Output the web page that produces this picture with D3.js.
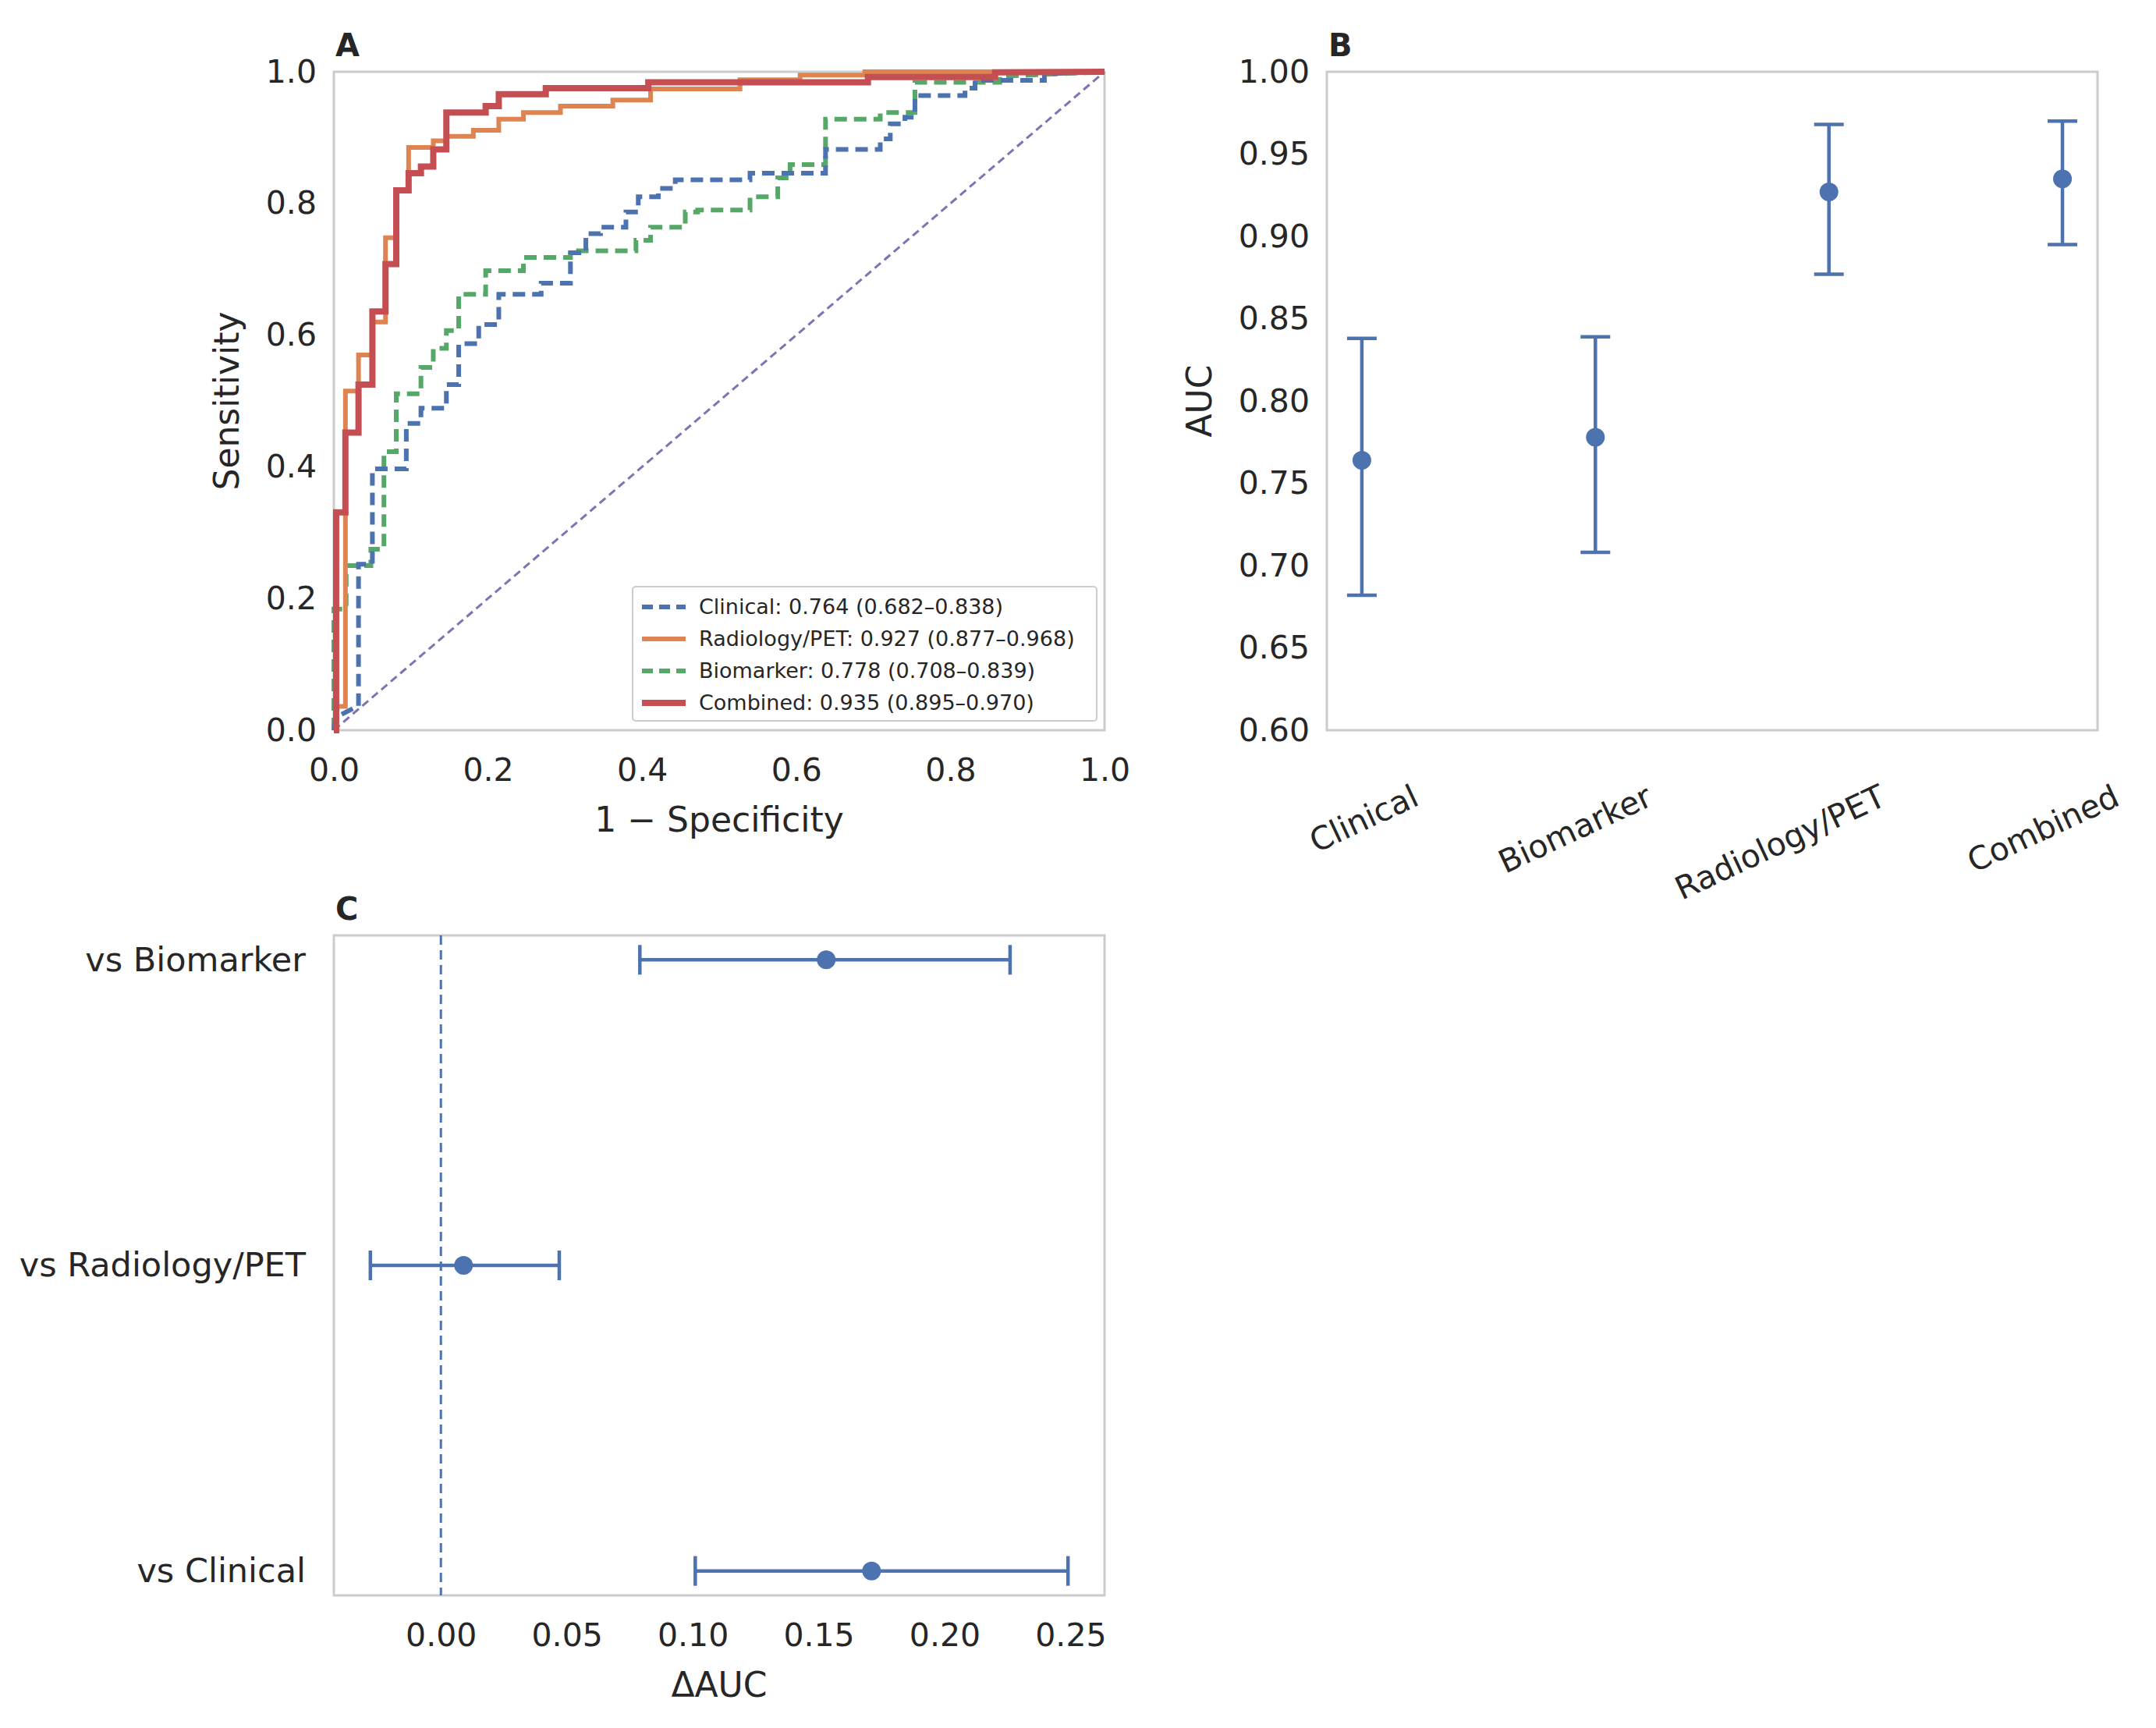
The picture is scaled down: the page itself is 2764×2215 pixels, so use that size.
<!DOCTYPE html>
<html><head><meta charset="utf-8">
<script src="https://cdn.jsdelivr.net/npm/d3@7"></script>
<style>body{margin:0;background:#fff}text{font-family:"DejaVu Sans",sans-serif;fill:#262626}</style>
</head><body><svg id="c" width="2764" height="2215"></svg>
<script>
// ROC step points [fpr, tpr]
const rocClinical=[[0,0],[0.003,0.02],[0.03,0.036],[0.032,0.036],[0.032,0.252],[0.05,0.252],[0.05,0.397],[0.094,0.397],[0.094,0.466],[0.113,0.466],[0.113,0.489],[0.146,0.489],[0.146,0.525],[0.162,0.525],[0.162,0.587],[0.188,0.587],[0.188,0.616],[0.214,0.616],[0.214,0.662],[0.269,0.662],[0.269,0.679],[0.307,0.679],[0.307,0.725],[0.327,0.725],[0.327,0.754],[0.346,0.754],[0.346,0.764],[0.379,0.764],[0.379,0.787],[0.395,0.787],[0.395,0.81],[0.421,0.81],[0.421,0.823],[0.443,0.823],[0.443,0.836],[0.54,0.836],[0.54,0.846],[0.638,0.846],[0.638,0.882],[0.709,0.882],[0.709,0.898],[0.722,0.898],[0.722,0.921],[0.741,0.921],[0.741,0.931],[0.754,0.931],[0.754,0.964],[0.819,0.964],[0.819,0.975],[0.832,0.975],[0.832,0.987],[0.922,0.987],[0.922,0.997],[1,1]];
const rocRadiology=[[0,0],[0.003,0],[0.003,0.036],[0.015,0.036],[0.015,0.515],[0.032,0.515],[0.032,0.57],[0.05,0.57],[0.05,0.62],[0.067,0.62],[0.067,0.748],[0.081,0.748],[0.081,0.82],[0.097,0.82],[0.097,0.885],[0.129,0.885],[0.129,0.895],[0.146,0.895],[0.146,0.902],[0.181,0.902],[0.181,0.911],[0.214,0.911],[0.214,0.928],[0.246,0.928],[0.246,0.938],[0.294,0.938],[0.294,0.948],[0.362,0.948],[0.362,0.957],[0.411,0.957],[0.411,0.974],[0.527,0.974],[0.527,0.988],[0.605,0.988],[0.605,0.995],[0.689,0.995],[0.689,1],[1,1]];
const rocBiomarker=[[0,0],[0,0.184],[0.016,0.184],[0.016,0.25],[0.048,0.25],[0.048,0.275],[0.065,0.275],[0.065,0.423],[0.081,0.423],[0.081,0.511],[0.113,0.511],[0.113,0.551],[0.129,0.551],[0.129,0.58],[0.146,0.58],[0.146,0.607],[0.162,0.607],[0.162,0.662],[0.197,0.662],[0.197,0.698],[0.246,0.698],[0.246,0.718],[0.307,0.718],[0.307,0.728],[0.392,0.728],[0.392,0.744],[0.411,0.744],[0.411,0.764],[0.456,0.764],[0.456,0.787],[0.472,0.787],[0.472,0.79],[0.54,0.79],[0.54,0.81],[0.576,0.81],[0.576,0.839],[0.592,0.839],[0.592,0.859],[0.638,0.859],[0.638,0.928],[0.709,0.928],[0.709,0.938],[0.754,0.938],[0.754,0.984],[0.864,0.984],[0.864,0.993],[1,1]];
const rocCombined=[[0,0],[0.003,0],[0.003,0.331],[0.015,0.331],[0.015,0.452],[0.032,0.452],[0.032,0.525],[0.05,0.525],[0.05,0.636],[0.067,0.636],[0.067,0.708],[0.081,0.708],[0.081,0.82],[0.097,0.82],[0.097,0.846],[0.113,0.846],[0.113,0.856],[0.129,0.856],[0.129,0.882],[0.146,0.882],[0.146,0.938],[0.197,0.938],[0.197,0.948],[0.214,0.948],[0.214,0.966],[0.275,0.966],[0.275,0.975],[0.408,0.975],[0.408,0.984],[0.693,0.984],[0.693,0.992],[0.858,0.992],[0.858,0.999],[1,1]];
const legendLabels=["Clinical: 0.764 (0.682–0.838)","Radiology/PET: 0.927 (0.877–0.968)","Biomarker: 0.778 (0.708–0.839)","Combined: 0.935 (0.895–0.970)"];
const models=["Clinical","Biomarker","Radiology/PET","Combined"];
const auc=[0.764,0.778,0.927,0.935];
const aucLo=[0.682,0.708,0.877,0.895];
const aucHi=[0.838,0.839,0.968,0.970];
const comps=["vs Biomarker","vs Radiology/PET","vs Clinical"];
const dAuc=[0.153,0.009,0.171];
const dLo=[0.079,-0.028,0.101];
const dHi=[0.226,0.047,0.249];
const rocTicks=[0,0.2,0.4,0.6,0.8,1.0];
const bTicks=[0.60,0.65,0.70,0.75,0.80,0.85,0.90,0.95,1.00];
const cTicks=[0,0.05,0.10,0.15,0.20,0.25];

const svg=d3.select("#c");
const FS=41, blue="#4c72b0";
function frame(g,w,h){g.append("rect").attr("width",w).attr("height",h).attr("fill","none").attr("stroke","#cccccc").attr("stroke-width",3);}
function styleAxis(a){a.select(".domain").remove();a.selectAll("line").remove();a.selectAll("text").attr("font-size",FS).attr("fill","#262626");}

// Panel A
{const L=428,T=92,W=988,H=844;
const g=svg.append("g").attr("transform",`translate(${L},${T})`);
const x=d3.scaleLinear([0,1],[0,W]),y=d3.scaleLinear([0,1],[H,0]);
frame(g,W,H);
g.append("line").attr("x1",x(0)).attr("y1",y(0)).attr("x2",x(1)).attr("y2",y(1)).attr("stroke","#8172b3").attr("stroke-width",3).attr("stroke-dasharray","10,6");
const line=d3.line().x(d=>x(d[0])).y(d=>y(d[1]));
const series=[[rocClinical,"#4c72b0","16,9",6],[rocRadiology,"#dd8452",null,6],[rocBiomarker,"#55a868","16,9",6],[rocCombined,"#c44e52",null,8]];
[series[2],series[0],series[1],series[3]].forEach(s=>{g.append("path").attr("d",line(s[0])).attr("fill","none").attr("stroke",s[1]).attr("stroke-width",s[3]).attr("stroke-dasharray",s[2]);});
const ax=g.append("g").attr("transform",`translate(0,${H+10})`).call(d3.axisBottom(x).tickValues(rocTicks).tickFormat(d3.format(".1f")).tickSize(0).tickPadding(26));styleAxis(ax);
const ay=g.append("g").attr("transform",`translate(-10,0)`).call(d3.axisLeft(y).tickValues(rocTicks).tickFormat(d3.format(".1f")).tickSize(0).tickPadding(12));styleAxis(ay);
g.append("text").attr("x",W/2).attr("y",H+130).attr("text-anchor","middle").attr("font-size",44).text("1 − Specificity");
g.append("text").attr("transform",`translate(-122,${H/2}) rotate(-90)`).attr("text-anchor","middle").attr("font-size",44).text("Sensitivity");
g.append("text").attr("x",2).attr("y",-20).attr("font-size",40).attr("font-weight","bold").text("A");
// legend
const lg=g.append("g").attr("transform",`translate(${W-605},${H-184})`);
lg.append("rect").attr("width",595).attr("height",172).attr("fill","#fff").attr("stroke","#cccccc").attr("stroke-width",2).attr("rx",4);
series.forEach((s,i)=>{const yy=26+i*41;
lg.append("line").attr("x1",12).attr("x2",68).attr("y1",yy).attr("y2",yy).attr("stroke",s[1]).attr("stroke-width",s[3]).attr("stroke-dasharray",s[2]?"14,8":null);
lg.append("text").attr("x",85).attr("y",yy).attr("dy","0.35em").attr("font-size",27).text(legendLabels[i]);});
}

// Panel B
{const L=1701,T=92,W=988,H=844;
const g=svg.append("g").attr("transform",`translate(${L},${T})`);
const x=d3.scalePoint(models,[0,W]).padding(0.15),y=d3.scaleLinear([0.6,1.0],[H,0]);
frame(g,W,H);
models.forEach((m,i)=>{const cx=x(m);
g.append("line").attr("x1",cx).attr("x2",cx).attr("y1",y(aucLo[i])).attr("y2",y(aucHi[i])).attr("stroke",blue).attr("stroke-width",4.5);
[aucLo[i],aucHi[i]].forEach(v=>g.append("line").attr("x1",cx-19).attr("x2",cx+19).attr("y1",y(v)).attr("y2",y(v)).attr("stroke",blue).attr("stroke-width",4.5));
g.append("circle").attr("cx",cx).attr("cy",y(auc[i])).attr("r",12).attr("fill",blue);});
const ay=g.append("g").attr("transform",`translate(-10,0)`).call(d3.axisLeft(y).tickValues(bTicks).tickFormat(d3.format(".2f")).tickSize(0).tickPadding(12));styleAxis(ay);
const ax=g.append("g").attr("transform",`translate(0,${H})`).call(d3.axisBottom(x).tickSize(0).tickPadding(0));styleAxis(ax);
ax.selectAll("text").attr("text-anchor","end").attr("dy",0).attr("transform","translate(75,95) rotate(-25)");
g.append("text").attr("transform",`translate(-148,${H/2}) rotate(-90)`).attr("text-anchor","middle").attr("font-size",44).text("AUC");
g.append("text").attr("x",2).attr("y",-20).attr("font-size",40).attr("font-weight","bold").text("B");
}

// Panel C
{const L=428,T=1199,W=988,H=846;
const g=svg.append("g").attr("transform",`translate(${L},${T})`);
const x=d3.scaleLinear([-0.0425,0.2635],[0,W]);
const y=d3.scalePoint(comps,[0,H]).padding(0.08);
frame(g,W,H);
g.append("line").attr("x1",x(0)).attr("x2",x(0)).attr("y1",0).attr("y2",H).attr("stroke",blue).attr("stroke-width",3).attr("stroke-dasharray","12,7");
comps.forEach((c,i)=>{const cy=y(c);
g.append("line").attr("x1",x(dLo[i])).attr("x2",x(dHi[i])).attr("y1",cy).attr("y2",cy).attr("stroke",blue).attr("stroke-width",4.5);
[dLo[i],dHi[i]].forEach(v=>g.append("line").attr("x1",x(v)).attr("x2",x(v)).attr("y1",cy-19).attr("y2",cy+19).attr("stroke",blue).attr("stroke-width",4.5));
g.append("circle").attr("cx",x(dAuc[i])).attr("cy",cy).attr("r",12).attr("fill",blue);});
const ax=g.append("g").attr("transform",`translate(0,${H+10})`).call(d3.axisBottom(x).tickValues(cTicks).tickFormat(d3.format(".2f")).tickSize(0).tickPadding(26));styleAxis(ax);
const ay=g.append("g").attr("transform",`translate(-10,0)`).call(d3.axisLeft(y).tickSize(0).tickPadding(26));styleAxis(ay);
ay.selectAll("text").attr("font-size",43);
g.append("text").attr("x",W/2).attr("y",H+130).attr("text-anchor","middle").attr("font-size",44).text("ΔAUC");
g.append("text").attr("x",2).attr("y",-20).attr("font-size",40).attr("font-weight","bold").text("C");
}
</script></body></html>
